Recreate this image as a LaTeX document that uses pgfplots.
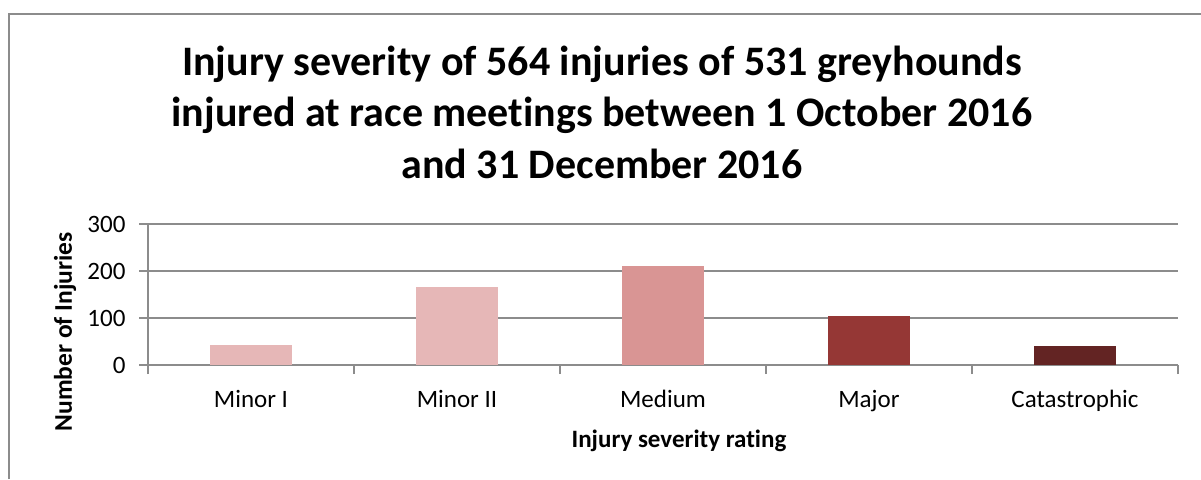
\documentclass[border=0pt]{standalone}
\usepackage{pgfplots}
\pgfplotsset{compat=1.18}
\usepackage{fontspec}
\setmainfont{Carlito}[Ligatures=NoCommon]
\definecolor{gridgray}{HTML}{8C8C8C}
\definecolor{cA}{HTML}{E6B7B7}
\definecolor{cB}{HTML}{E6B7B7}
\definecolor{cC}{HTML}{D99594}
\definecolor{cD}{HTML}{953735}
\definecolor{cE}{HTML}{632423}
\begin{document}
\begin{tikzpicture}[x=1pt,y=1pt]
\useasboundingbox (0,0) rectangle (1201,479);
\draw[gridgray, line width=2pt] (9,0) -- (9,465) -- (1201,465);
\node[align=center, font=\fontsize{42}{51.5}\selectfont\bfseries] at (602,367)
  {Injury severity of 564 injuries of 531 greyhounds\\injured at race meetings between 1 October 2016\\and 31 December 2016};
\begin{axis}[
  at={(148pt,114pt)}, anchor=south west,
  scale only axis, width=1030pt, height=141pt,
  xmin=-0.5, xmax=4.5, ymin=0, ymax=300,
  ytick={0,100,200,300},
  xtick={0,1,2,3,4},
  xticklabels={Minor I, Minor II, Medium, Major, Catastrophic},
  minor xtick={-0.5,0.5,1.5,2.5,3.5,4.5},
  major x tick style={draw=none},
  tick align=outside, tick pos=left,
  major tick length=9pt, minor tick length=9pt,
  every tick/.style={gridgray, line width=1.5pt},
  axis x line*=bottom, axis y line*=left,
  axis line style={gridgray, line width=1.5pt},
  ymajorgrids, grid style={gridgray, line width=1.5pt},
  xminorgrids=false,
  font=\fontsize{25}{29}\selectfont,
  /pgf/number format/assume math mode=true,
  yticklabel style={xshift=-10pt},
  xticklabel style={yshift=-13pt},
  xlabel={\bfseries Injury severity rating},
  ylabel={\bfseries Number of Injuries},
  xlabel style={at={(axis description cs:0.5,0)}, anchor=center, yshift=-76pt, xshift=16pt, font=\fontsize{25}{29}\selectfont},
  ylabel style={at={(axis description cs:-0.0806,0.235)}, anchor=center, font=\fontsize{25.5}{29}\selectfont},
  bar width=0.4, ybar, bar shift=0pt,
]
\addplot[fill=cA, draw=none] coordinates {(0,43)};
\addplot[fill=cB, draw=none] coordinates {(1,165)};
\addplot[fill=cC, draw=none] coordinates {(2,210)};
\addplot[fill=cD, draw=none] coordinates {(3,105)};
\addplot[fill=cE, draw=none] coordinates {(4,41)};
\end{axis}
\end{tikzpicture}
\end{document}
